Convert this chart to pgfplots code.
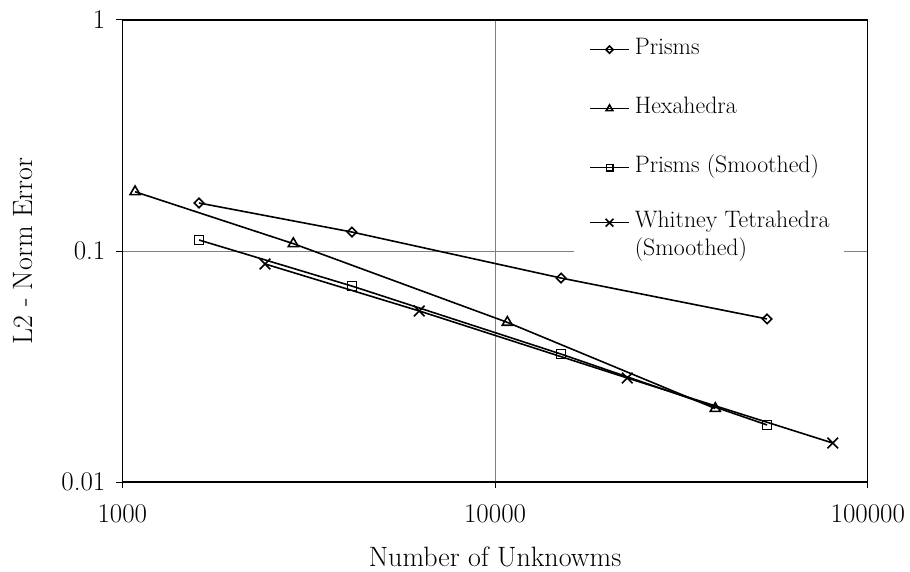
\documentclass[border=0pt]{standalone}
\usepackage{pgfplots}
\pgfplotsset{compat=1.18}
% short legend sample: a line with one centred mark, raised to the text's middle
\pgfplotsset{legline/.style={legend image code/.code={%
  \draw[mark repeat=2,mark phase=2,yshift=5bp,mark size=#1]
    plot coordinates {(0bp,0bp) (19.5bp,0bp) (39bp,0bp)};}}}
\begin{document}
\begin{tikzpicture}
\useasboundingbox (-122.3bp,-90bp) rectangle (787.7bp,482bp);
\begin{axis}[
  at={(0,0)}, anchor=south west,
  scale only axis, width=745.5bp, height=462bp,
  xmode=log, ymode=log,
  xmin=1000, xmax=100000, ymin=0.01, ymax=1,
  xtick={1000,10000,100000}, xticklabels={1000,10000,100000},
  ytick={0.01,0.1,1}, yticklabels={0.01,0.1,1},
  xminorticks=false, yminorticks=false,
  tick pos=left, tick align=outside, major tick length=6.5bp,
  tick style={black, line width=1bp},
  grid=major, major grid style={gray, line width=0.8bp},
  axis line style={line width=1.3bp},
  ticklabel style={font=\fontsize{27bp}{32bp}\selectfont},
  xticklabel style={yshift=-13bp},
  yticklabel style={xshift=-7bp},
  xlabel={Number of Unknowms},
  ylabel={L2 - Norm Error},
  every axis x label/.style={at={(rel axis cs:0.5,0)}, anchor=base, yshift=-84bp,
    font=\fontsize{28bp}{33bp}\selectfont},
  every axis y label/.style={at={(rel axis cs:0,0.5)}, rotate=90, anchor=center, yshift=99bp,
    font=\fontsize{28bp}{33bp}\selectfont},
  legend style={at={(0.6059,0.986)}, anchor=north west, draw=none, fill=white,
    inner xsep=15bp, inner ysep=12bp, font=\fontsize{23.8bp}{28bp}\selectfont,
    row sep=37bp, cells={anchor=base west},
    nodes={inner sep=0pt, text height=16bp, text depth=6bp},
    /tikz/column 1/.style={column sep=5bp}},
  every axis plot/.append style={black, line width=1.6bp},
]
\addplot[mark=square, mark size=3.3bp, mark options={rotate=45, fill=white}, legline=2.6bp]
  coordinates {(1606,0.1614) (4132,0.1208) (15030,0.0764) (53660,0.0508)};
\addlegendentry{Prisms}
\addplot[mark=triangle, mark size=5.8bp, mark options={fill=white}, legline=3.8bp]
  coordinates {(1082,0.1805) (2876,0.1076) (10787,0.0491) (38980,0.0208)};
\addlegendentry{Hexahedra}
\addplot[mark=square, mark size=4.6bp, mark options={fill=white}, legline=3.2bp]
  coordinates {(1606,0.1116) (4132,0.0705) (15030,0.0358) (53660,0.01766)};
\addlegendentry{Prisms (Smoothed)}
\addplot[mark=x, mark size=7.5bp, legline=5.5bp]
  coordinates {(2414,0.0879) (6263,0.0550) (22630,0.0282) (80500,0.01475)};
\addlegendentry[text height=12bp, text depth=24bp]{\vtop{\hbox{Whitney Tetrahedra}\hbox{(Smoothed)}}}
\end{axis}
\end{tikzpicture}
\end{document}
